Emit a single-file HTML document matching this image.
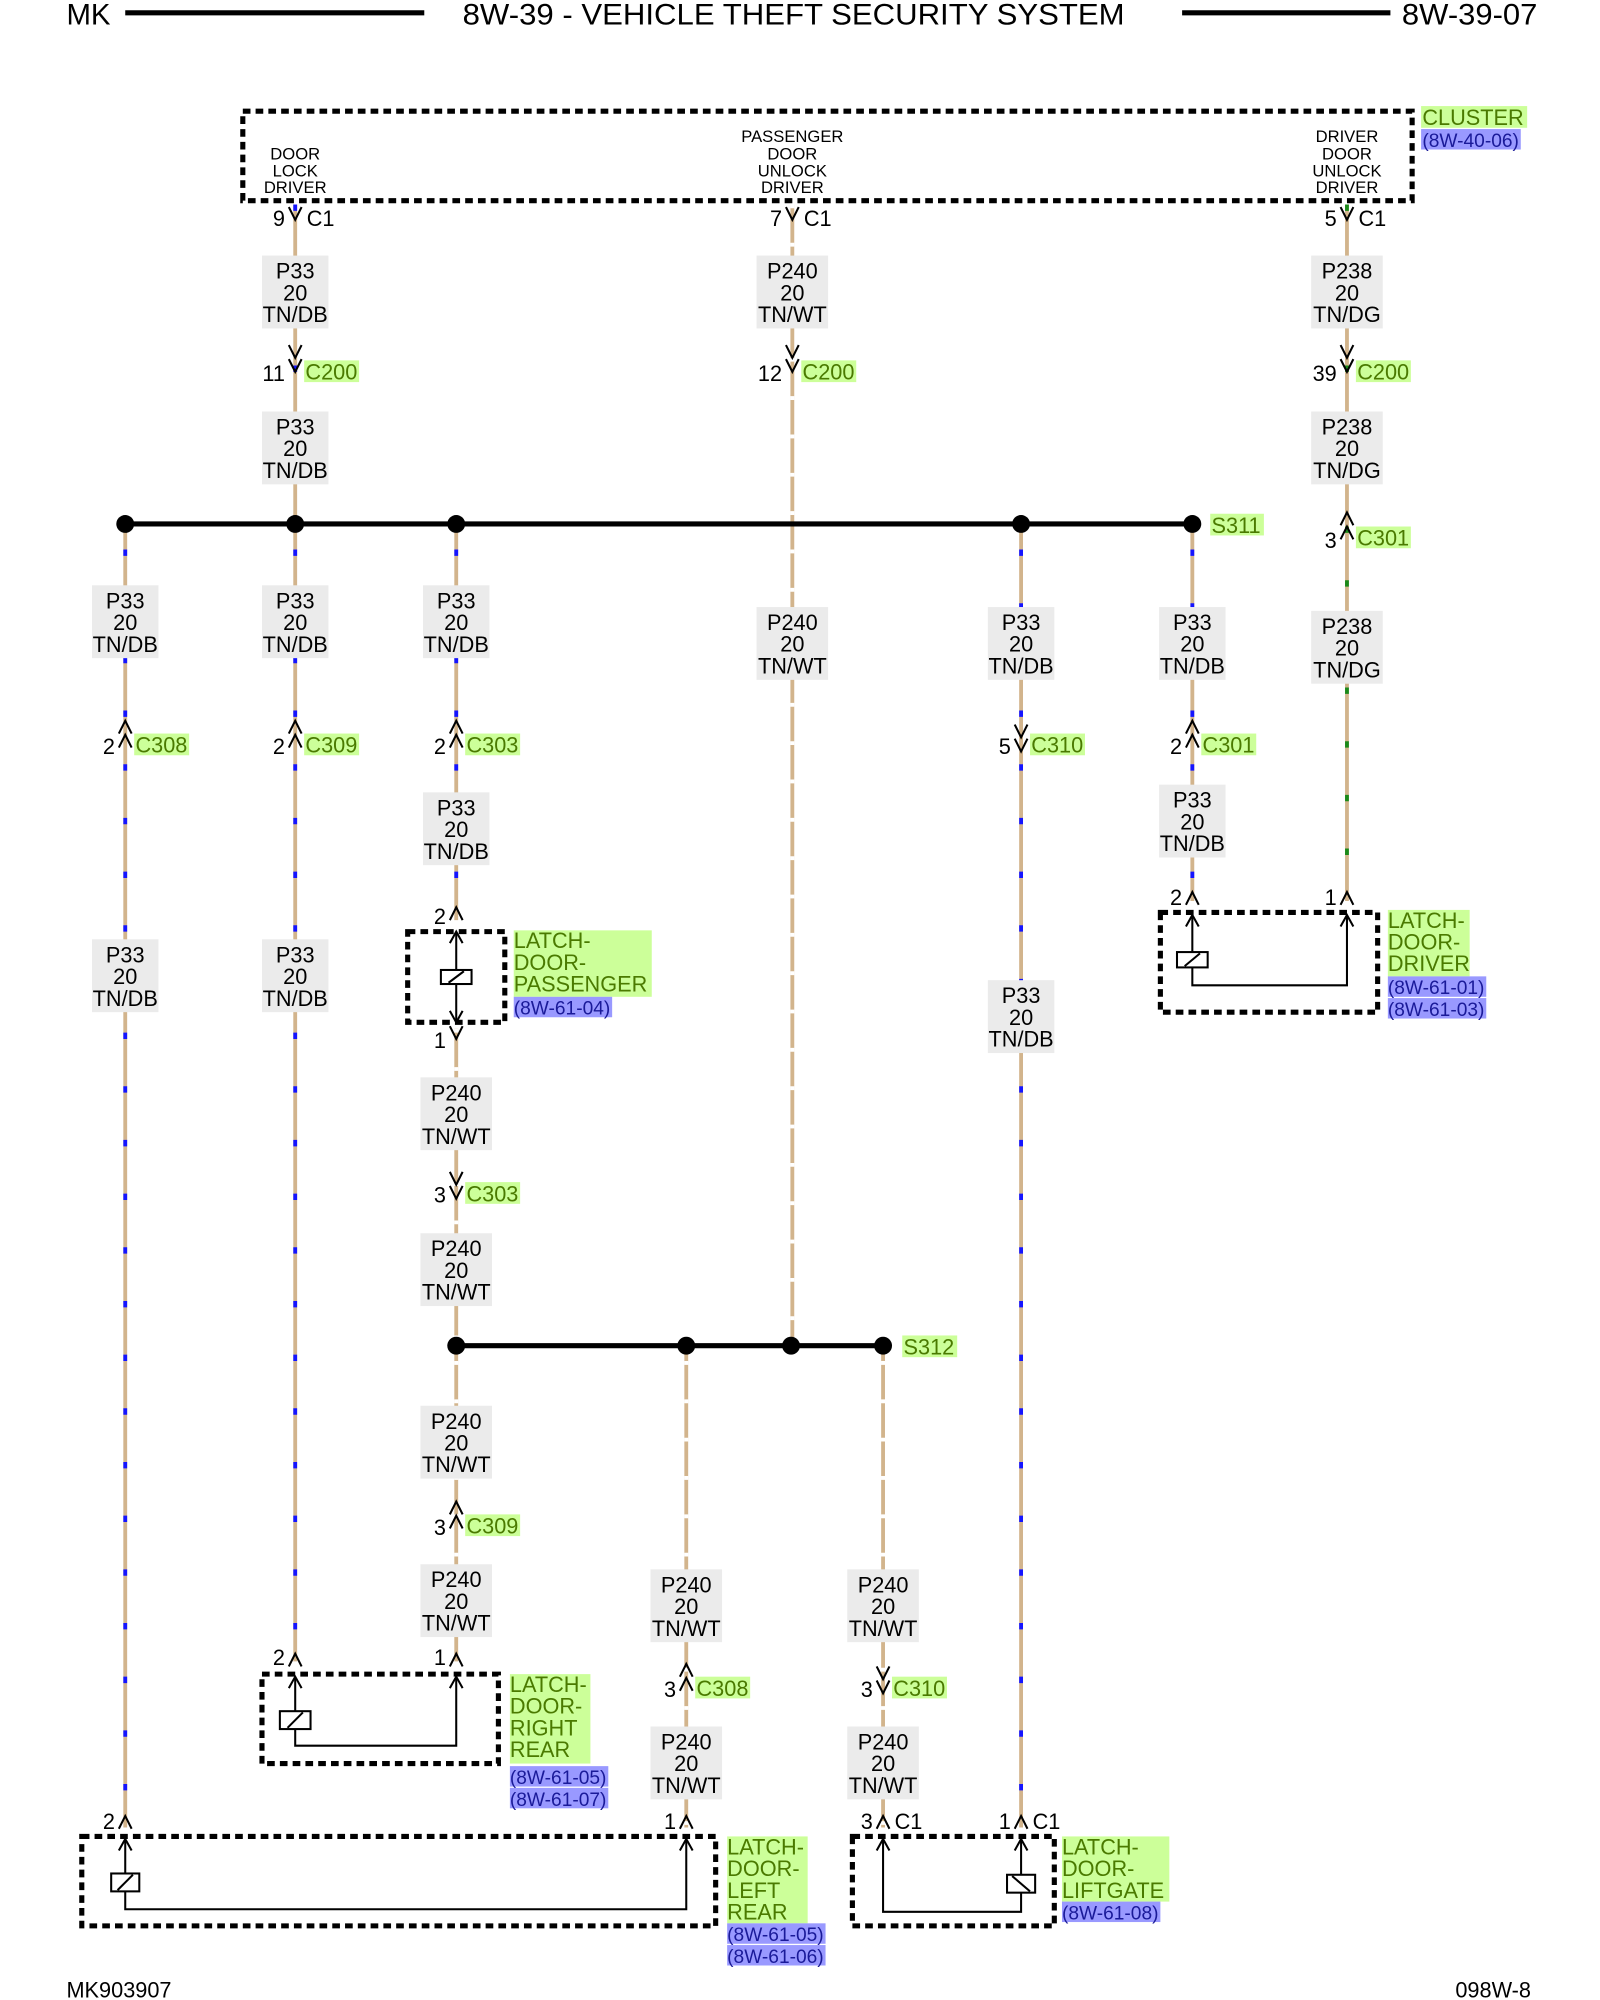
<!DOCTYPE html>
<html><head><meta charset="utf-8"><style>
html,body{margin:0;padding:0;background:#fff}
svg{display:block}
text{font-family:"Liberation Sans",sans-serif;font-size:17px;fill:#000}
.t{stroke:#d2b48c;stroke-width:3;fill:none}
.db{stroke:#1414ff;stroke-width:3;stroke-dasharray:5 37;fill:none}
.dg{stroke:#1a8a1a;stroke-width:3;stroke-dasharray:5 37;fill:none}
.dw{stroke:#fff;stroke-width:3.2;stroke-dasharray:3 27;fill:none}
.lb{fill:#ebebeb}
.box{fill:none;stroke:#000;stroke-width:4;stroke-dasharray:6 4}
.k{stroke:#000;stroke-width:1.6;fill:none}
.g{fill:#ccff99}.gt{fill:#4a7a00}
.b{fill:#9999ff}.bt{fill:#1a1a99}
.sm{font-size:13px}
</style></head><body>
<svg width="1600" height="2000" viewBox="0 0 1252 1565" preserveAspectRatio="none" xmlns="http://www.w3.org/2000/svg">
<!-- header -->
<text x="52" y="19" style="font-size:23px">MK</text>
<line x1="98" y1="10" x2="332" y2="10" stroke="#000" stroke-width="4"/>
<text x="362" y="19" style="font-size:23px" textLength="518" lengthAdjust="spacingAndGlyphs">8W-39 - VEHICLE THEFT SECURITY SYSTEM</text>
<line x1="925" y1="10" x2="1088" y2="10" stroke="#000" stroke-width="4"/>
<text x="1097" y="19" style="font-size:23px" textLength="106" lengthAdjust="spacingAndGlyphs">8W-39-07</text>

<!-- wires -->
<g>
<line class="t" x1="231" y1="160" x2="231" y2="410"/><line class="db" x1="231" y1="160" x2="231" y2="410"/>
<line class="t" x1="620" y1="160" x2="620" y2="1053"/><line class="dw" x1="620" y1="160" x2="620" y2="1053"/>
<line class="t" x1="1054" y1="160" x2="1054" y2="705"/><line class="dg" x1="1054" y1="160" x2="1054" y2="705"/>
<line class="t" x1="98" y1="410" x2="98" y2="1430"/><line class="db" x1="98" y1="430" x2="98" y2="1430"/>
<line class="t" x1="231" y1="410" x2="231" y2="1300"/><line class="db" x1="231" y1="430" x2="231" y2="1300"/>
<line class="t" x1="357" y1="410" x2="357" y2="720"/><line class="db" x1="357" y1="430" x2="357" y2="720"/>
<line class="t" x1="357" y1="805" x2="357" y2="1053"/><line class="dw" x1="357" y1="805" x2="357" y2="1053"/>
<line class="t" x1="799" y1="410" x2="799" y2="1430"/><line class="db" x1="799" y1="430" x2="799" y2="1430"/>
<line class="t" x1="933" y1="410" x2="933" y2="705"/><line class="db" x1="933" y1="430" x2="933" y2="705"/>
<line class="t" x1="357" y1="1053" x2="357" y2="1300"/><line class="dw" x1="357" y1="1065" x2="357" y2="1300"/>
<line class="t" x1="537" y1="1053" x2="537" y2="1430"/><line class="dw" x1="537" y1="1065" x2="537" y2="1430"/>
<line class="t" x1="691" y1="1053" x2="691" y2="1430"/><line class="dw" x1="691" y1="1065" x2="691" y2="1430"/>
</g>

<!-- buses -->
<line x1="98" y1="410" x2="933" y2="410" stroke="#000" stroke-width="4"/>
<g fill="#000"><circle cx="98" cy="410" r="7"/><circle cx="231" cy="410" r="7"/><circle cx="357" cy="410" r="7"/><circle cx="799" cy="410" r="7"/><circle cx="933" cy="410" r="7"/></g>
<rect class="g" x="947" y="402" width="42" height="17"/><text class="gt" x="948" y="417">S311</text>
<line x1="357" y1="1053" x2="691" y2="1053" stroke="#000" stroke-width="4"/>
<g fill="#000"><circle cx="357" cy="1053" r="7"/><circle cx="537" cy="1053" r="7"/><circle cx="619" cy="1053" r="7"/><circle cx="691" cy="1053" r="7"/></g>
<rect class="g" x="706" y="1045" width="43" height="17"/><text class="gt" x="707" y="1060">S312</text>

<!-- cluster -->
<rect class="box" x="190" y="87" width="915" height="70"/>
<g class="sm" text-anchor="middle">
<text class="sm" x="231" y="125">DOOR</text><text class="sm" x="231" y="138">LOCK</text><text class="sm" x="231" y="151">DRIVER</text>
<text class="sm" x="620" y="111">PASSENGER</text><text class="sm" x="620" y="125">DOOR</text><text class="sm" x="620" y="138">UNLOCK</text><text class="sm" x="620" y="151">DRIVER</text>
<text class="sm" x="1054" y="111">DRIVER</text><text class="sm" x="1054" y="125">DOOR</text><text class="sm" x="1054" y="138">UNLOCK</text><text class="sm" x="1054" y="151">DRIVER</text>
</g>
<rect class="g" x="1112" y="83" width="83" height="17"/><text class="gt" x="1113" y="98">CLUSTER</text>
<rect class="b" x="1112" y="101" width="78" height="16"/><text class="bt" x="1113" y="115" style="font-size:15px">(8W-40-06)</text>

<!-- wire labels -->
<g text-anchor="middle">
<g transform="translate(231,200)"><rect class="lb" x="-26" y="0" width="52" height="57"/><text x="0" y="18">P33</text><text x="0" y="35">20</text><text x="0" y="52">TN/DB</text></g>
<g transform="translate(620,200)"><rect class="lb" x="-28" y="0" width="56" height="57"/><text x="0" y="18">P240</text><text x="0" y="35">20</text><text x="0" y="52">TN/WT</text></g>
<g transform="translate(1054,200)"><rect class="lb" x="-28" y="0" width="56" height="57"/><text x="0" y="18">P238</text><text x="0" y="35">20</text><text x="0" y="52">TN/DG</text></g>
<g transform="translate(231,322)"><rect class="lb" x="-26" y="0" width="52" height="57"/><text x="0" y="18">P33</text><text x="0" y="35">20</text><text x="0" y="52">TN/DB</text></g>
<g transform="translate(1054,322)"><rect class="lb" x="-28" y="0" width="56" height="57"/><text x="0" y="18">P238</text><text x="0" y="35">20</text><text x="0" y="52">TN/DG</text></g>
<g transform="translate(98,458)"><rect class="lb" x="-26" y="0" width="52" height="57"/><text x="0" y="18">P33</text><text x="0" y="35">20</text><text x="0" y="52">TN/DB</text></g>
<g transform="translate(231,458)"><rect class="lb" x="-26" y="0" width="52" height="57"/><text x="0" y="18">P33</text><text x="0" y="35">20</text><text x="0" y="52">TN/DB</text></g>
<g transform="translate(357,458)"><rect class="lb" x="-26" y="0" width="52" height="57"/><text x="0" y="18">P33</text><text x="0" y="35">20</text><text x="0" y="52">TN/DB</text></g>
<g transform="translate(620,475)"><rect class="lb" x="-28" y="0" width="56" height="57"/><text x="0" y="18">P240</text><text x="0" y="35">20</text><text x="0" y="52">TN/WT</text></g>
<g transform="translate(799,475)"><rect class="lb" x="-26" y="0" width="52" height="57"/><text x="0" y="18">P33</text><text x="0" y="35">20</text><text x="0" y="52">TN/DB</text></g>
<g transform="translate(933,475)"><rect class="lb" x="-26" y="0" width="52" height="57"/><text x="0" y="18">P33</text><text x="0" y="35">20</text><text x="0" y="52">TN/DB</text></g>
<g transform="translate(1054,478)"><rect class="lb" x="-28" y="0" width="56" height="57"/><text x="0" y="18">P238</text><text x="0" y="35">20</text><text x="0" y="52">TN/DG</text></g>
<g transform="translate(357,620)"><rect class="lb" x="-26" y="0" width="52" height="57"/><text x="0" y="18">P33</text><text x="0" y="35">20</text><text x="0" y="52">TN/DB</text></g>
<g transform="translate(933,614)"><rect class="lb" x="-26" y="0" width="52" height="57"/><text x="0" y="18">P33</text><text x="0" y="35">20</text><text x="0" y="52">TN/DB</text></g>
<g transform="translate(98,735)"><rect class="lb" x="-26" y="0" width="52" height="57"/><text x="0" y="18">P33</text><text x="0" y="35">20</text><text x="0" y="52">TN/DB</text></g>
<g transform="translate(231,735)"><rect class="lb" x="-26" y="0" width="52" height="57"/><text x="0" y="18">P33</text><text x="0" y="35">20</text><text x="0" y="52">TN/DB</text></g>
<g transform="translate(799,767)"><rect class="lb" x="-26" y="0" width="52" height="57"/><text x="0" y="18">P33</text><text x="0" y="35">20</text><text x="0" y="52">TN/DB</text></g>
<g transform="translate(357,843)"><rect class="lb" x="-28" y="0" width="56" height="57"/><text x="0" y="18">P240</text><text x="0" y="35">20</text><text x="0" y="52">TN/WT</text></g>
<g transform="translate(357,965)"><rect class="lb" x="-28" y="0" width="56" height="57"/><text x="0" y="18">P240</text><text x="0" y="35">20</text><text x="0" y="52">TN/WT</text></g>
<g transform="translate(357,1100)"><rect class="lb" x="-28" y="0" width="56" height="57"/><text x="0" y="18">P240</text><text x="0" y="35">20</text><text x="0" y="52">TN/WT</text></g>
<g transform="translate(357,1224)"><rect class="lb" x="-28" y="0" width="56" height="57"/><text x="0" y="18">P240</text><text x="0" y="35">20</text><text x="0" y="52">TN/WT</text></g>
<g transform="translate(537,1228)"><rect class="lb" x="-28" y="0" width="56" height="57"/><text x="0" y="18">P240</text><text x="0" y="35">20</text><text x="0" y="52">TN/WT</text></g>
<g transform="translate(691,1228)"><rect class="lb" x="-28" y="0" width="56" height="57"/><text x="0" y="18">P240</text><text x="0" y="35">20</text><text x="0" y="52">TN/WT</text></g>
<g transform="translate(537,1351)"><rect class="lb" x="-28" y="0" width="56" height="57"/><text x="0" y="18">P240</text><text x="0" y="35">20</text><text x="0" y="52">TN/WT</text></g>
<g transform="translate(691,1351)"><rect class="lb" x="-28" y="0" width="56" height="57"/><text x="0" y="18">P240</text><text x="0" y="35">20</text><text x="0" y="52">TN/WT</text></g>
</g>

<!-- connectors -->
<g class="k">
<path d="M226 162 L231 172 L236 162"/><path d="M615 162 L620 172 L625 162"/><path d="M1049 162 L1054 172 L1059 162"/>
<path d="M226 270 L231 280 L236 270 M226 281 L231 291 L236 281"/>
<path d="M615 270 L620 280 L625 270 M615 281 L620 291 L625 281"/>
<path d="M1049 270 L1054 280 L1059 270 M1049 281 L1054 291 L1059 281"/>
<path d="M1049 411 L1054 401 L1059 411 M1049 422 L1054 412 L1059 422"/>
<path d="M93 574 L98 564 L103 574 M93 585 L98 575 L103 585"/>
<path d="M226 574 L231 564 L236 574 M226 585 L231 575 L236 585"/>
<path d="M352 574 L357 564 L362 574 M352 585 L357 575 L362 585"/>
<path d="M794 567 L799 577 L804 567 M794 578 L799 588 L804 578"/>
<path d="M928 574 L933 564 L938 574 M928 585 L933 575 L938 585"/>
<path d="M352 917 L357 927 L362 917 M352 928 L357 938 L362 928"/>
<path d="M352 1185 L357 1175 L362 1185 M352 1196 L357 1186 L362 1196"/>
<path d="M532 1312 L537 1302 L542 1312 M532 1323 L537 1313 L542 1323"/>
<path d="M686 1304 L691 1314 L696 1304 M686 1315 L691 1325 L696 1315"/>
<path d="M352 720 L357 710 L362 720"/>
<path d="M352 803 L357 813 L362 803"/>
<path d="M928 708 L933 698 L938 708"/>
<path d="M1049 708 L1054 698 L1059 708"/>
<path d="M226 1304 L231 1294 L236 1304"/>
<path d="M352 1304 L357 1294 L362 1304"/>
<path d="M93 1431 L98 1421 L103 1431"/>
<path d="M532 1431 L537 1421 L542 1431"/>
<path d="M686 1431 L691 1421 L696 1431"/>
<path d="M794 1431 L799 1421 L804 1431"/>
</g>

<!-- connector texts -->
<g text-anchor="end">
<text x="223" y="177">9</text><text x="612" y="177">7</text><text x="1046" y="177">5</text>
<text x="223" y="298">11</text><text x="612" y="298">12</text><text x="1046" y="298">39</text>
<text x="1046" y="429">3</text>
<text x="90" y="590">2</text><text x="223" y="590">2</text><text x="349" y="590">2</text><text x="791" y="590">5</text><text x="925" y="590">2</text>
<text x="349" y="941">3</text><text x="349" y="1201">3</text><text x="529" y="1328">3</text><text x="683" y="1328">3</text>
<text x="349" y="723">2</text><text x="349" y="820">1</text><text x="925" y="708">2</text><text x="1046" y="708">1</text>
<text x="223" y="1303">2</text><text x="349" y="1303">1</text><text x="90" y="1431">2</text><text x="529" y="1431">1</text><text x="683" y="1431">3</text><text x="791" y="1431">1</text>
</g>
<text x="240" y="177">C1</text><text x="629" y="177">C1</text><text x="1063" y="177">C1</text>
<text x="700" y="1431">C1</text><text x="808" y="1431">C1</text>
<g>
<rect class="g" x="238" y="282" width="43" height="17"/><text class="gt" x="239" y="297">C200</text>
<rect class="g" x="627" y="282" width="43" height="17"/><text class="gt" x="628" y="297">C200</text>
<rect class="g" x="1061" y="282" width="43" height="17"/><text class="gt" x="1062" y="297">C200</text>
<rect class="g" x="1061" y="412" width="43" height="17"/><text class="gt" x="1062" y="427">C301</text>
<rect class="g" x="105" y="574" width="43" height="17"/><text class="gt" x="106" y="589">C308</text>
<rect class="g" x="238" y="574" width="43" height="17"/><text class="gt" x="239" y="589">C309</text>
<rect class="g" x="364" y="574" width="43" height="17"/><text class="gt" x="365" y="589">C303</text>
<rect class="g" x="806" y="574" width="43" height="17"/><text class="gt" x="807" y="589">C310</text>
<rect class="g" x="940" y="574" width="43" height="17"/><text class="gt" x="941" y="589">C301</text>
<rect class="g" x="364" y="925" width="43" height="17"/><text class="gt" x="365" y="940">C303</text>
<rect class="g" x="364" y="1185" width="43" height="17"/><text class="gt" x="365" y="1200">C309</text>
<rect class="g" x="544" y="1312" width="43" height="17"/><text class="gt" x="545" y="1327">C308</text>
<rect class="g" x="698" y="1312" width="43" height="17"/><text class="gt" x="699" y="1327">C310</text>
</g>

<!-- latch boxes -->
<rect class="box" x="319" y="729" width="76" height="71"/>
<g class="k">
<line x1="357" y1="729" x2="357" y2="800"/><path d="M352 738 L357 729 L362 738 M352 791 L357 800 L362 791"/>
<rect x="345" y="759" width="24" height="11" fill="#fff"/><line x1="351" y1="769" x2="363" y2="760"/>
</g>
<rect class="g" x="402" y="728" width="108" height="52"/>
<text class="gt" x="402" y="742">LATCH-</text><text class="gt" x="402" y="759">DOOR-</text><text class="gt" x="402" y="776">PASSENGER</text>
<rect class="b" x="402" y="780" width="77" height="16"/><text class="bt" x="402" y="794" style="font-size:15px">(8W-61-04)</text>

<rect class="box" x="908" y="714" width="170" height="78"/>
<g class="k">
<path d="M933 716 L933 771 L1054 771 L1054 716"/><path d="M928 725 L933 716 L938 725 M1049 725 L1054 716 L1059 725"/>
<rect x="921" y="745" width="24" height="12" fill="#fff"/><line x1="927" y1="756" x2="939" y2="746"/>
</g>
<rect class="g" x="1086" y="712" width="64" height="52"/>
<text class="gt" x="1086" y="726">LATCH-</text><text class="gt" x="1086" y="743">DOOR-</text><text class="gt" x="1086" y="760">DRIVER</text>
<rect class="b" x="1086" y="764" width="77" height="16"/><text class="bt" x="1086" y="778" style="font-size:15px">(8W-61-01)</text>
<rect class="b" x="1086" y="781" width="77" height="16"/><text class="bt" x="1086" y="795" style="font-size:15px">(8W-61-03)</text>

<rect class="box" x="205" y="1310" width="185" height="70"/>
<g class="k">
<path d="M231 1312 L231 1366 L357 1366 L357 1312"/><path d="M226 1321 L231 1312 L236 1321 M352 1321 L357 1312 L362 1321"/>
<rect x="219" y="1339" width="24" height="14" fill="#fff"/><line x1="225" y1="1352" x2="237" y2="1340"/>
</g>
<rect class="g" x="399" y="1310" width="63" height="70"/>
<text class="gt" x="399" y="1324">LATCH-</text><text class="gt" x="399" y="1341">DOOR-</text><text class="gt" x="399" y="1358">RIGHT</text><text class="gt" x="399" y="1375">REAR</text>
<rect class="b" x="399" y="1382" width="77" height="16"/><text class="bt" x="399" y="1396" style="font-size:15px">(8W-61-05)</text>
<rect class="b" x="399" y="1399" width="77" height="16"/><text class="bt" x="399" y="1413" style="font-size:15px">(8W-61-07)</text>

<rect class="box" x="64" y="1437" width="496" height="70"/>
<g class="k">
<path d="M98 1439 L98 1494 L537 1494 L537 1439"/><path d="M93 1448 L98 1439 L103 1448 M532 1448 L537 1439 L542 1448"/>
<rect x="87" y="1466" width="22" height="14" fill="#fff"/><line x1="92" y1="1479" x2="104" y2="1467"/>
</g>
<rect class="g" x="569" y="1437" width="63" height="68"/>
<text class="gt" x="569" y="1451">LATCH-</text><text class="gt" x="569" y="1468">DOOR-</text><text class="gt" x="569" y="1485">LEFT</text><text class="gt" x="569" y="1502">REAR</text>
<rect class="b" x="569" y="1505" width="77" height="16"/><text class="bt" x="569" y="1519" style="font-size:15px">(8W-61-05)</text>
<rect class="b" x="569" y="1522" width="77" height="16"/><text class="bt" x="569" y="1536" style="font-size:15px">(8W-61-06)</text>

<rect class="box" x="667" y="1437" width="158" height="70"/>
<g class="k">
<path d="M691 1439 L691 1496 L799 1496 L799 1439"/><path d="M686 1448 L691 1439 L696 1448 M794 1448 L799 1439 L804 1448"/>
<rect x="788" y="1467" width="22" height="14" fill="#fff"/><line x1="792" y1="1468" x2="806" y2="1480"/>
</g>
<rect class="g" x="831" y="1437" width="84" height="51"/>
<text class="gt" x="831" y="1451">LATCH-</text><text class="gt" x="831" y="1468">DOOR-</text><text class="gt" x="831" y="1485">LIFTGATE</text>
<rect class="b" x="831" y="1488" width="77" height="16"/><text class="bt" x="831" y="1502" style="font-size:15px">(8W-61-08)</text>

<!-- footer -->
<text x="52" y="1563">MK903907</text>
<text x="1198" y="1563" text-anchor="end">098W-8</text>
</svg>
</body></html>
